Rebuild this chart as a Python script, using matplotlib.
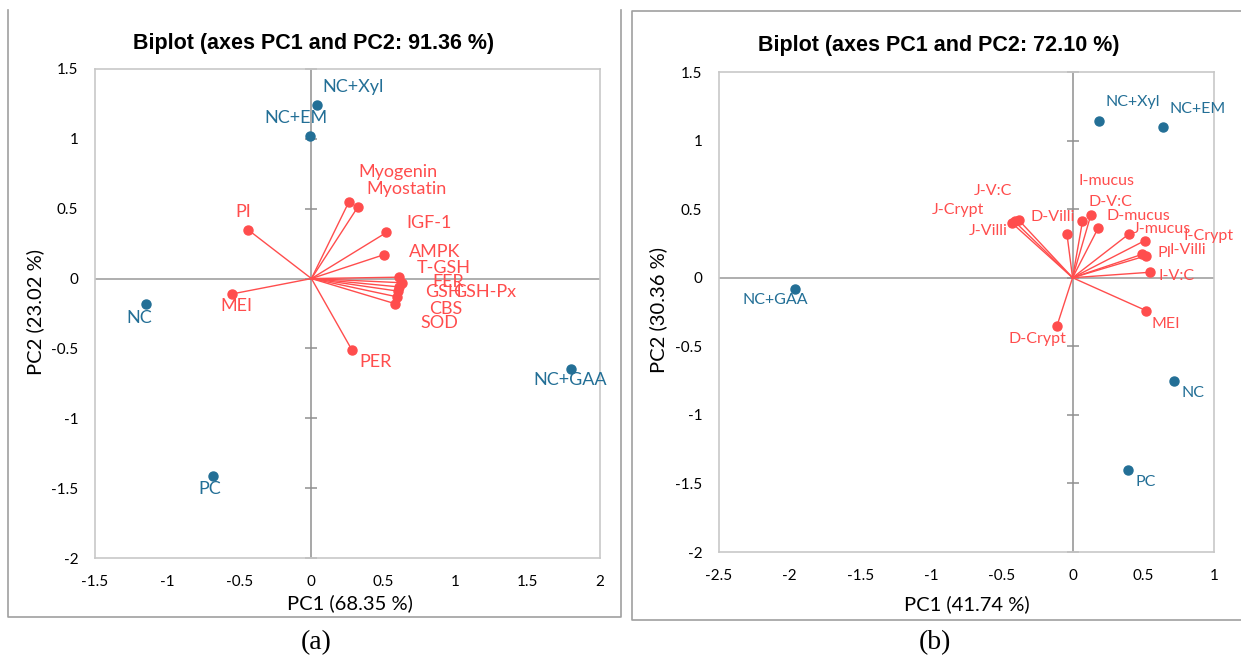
import numpy as np
import matplotlib
matplotlib.use("Agg")
import matplotlib.pyplot as plt
from matplotlib.lines import Line2D

# ---- panel (a) data ----
a_obs_names = ["NC+Xyl", "NC+EM", "NC", "PC", "NC+GAA"]
a_obs_pc1 = [0.04, -0.01, -1.15, -0.68, 1.80]
a_obs_pc2 = [1.24, 1.02, -0.18, -1.41, -0.65]

a_var_names = ["Myogenin", "Myostatin", "IGF-1", "AMPK", "T-GSH", "FER",
               "GSH-Px", "GSH", "CBS", "SOD", "PER", "PI", "MEI"]
a_var_pc1 = [0.26, 0.32, 0.52, 0.50, 0.61, 0.63, 0.61, 0.60, 0.59, 0.58, 0.28, -0.44, -0.55]
a_var_pc2 = [0.55, 0.51, 0.33, 0.17, 0.01, -0.03, -0.06, -0.09, -0.13, -0.18, -0.51, 0.35, -0.11]

a_xticks = [-1.5, -1, -0.5, 0, 0.5, 1, 1.5, 2]
a_yticks = [-2, -1.5, -1, -0.5, 0, 0.5, 1, 1.5]

# ---- panel (b) data ----
b_obs_names = ["NC+Xyl", "NC+EM", "NC+GAA", "NC", "PC"]
b_obs_pc1 = [0.19, 0.64, -1.96, 0.72, 0.39]
b_obs_pc2 = [1.14, 1.10, -0.08, -0.75, -1.40]

b_var_names = ["J-V:C", "J-Crypt", "J-Villi", "D-Villi", "I-mucus", "D-V:C", "D-mucus",
               "J-mucus", "I-Crypt", "PI", "I-Villi", "I-V:C", "MEI", "D-Crypt"]
b_var_pc1 = [-0.38, -0.41, -0.43, -0.04, 0.13, 0.07, 0.18, 0.40, 0.51, 0.49, 0.52, 0.55, 0.52, -0.11]
b_var_pc2 = [0.42, 0.41, 0.40, 0.32, 0.46, 0.41, 0.36, 0.32, 0.27, 0.17, 0.16, 0.04, -0.24, -0.35]

b_xticks = [-2.5, -2, -1.5, -1, -0.5, 0, 0.5, 1]
b_yticks = [-2, -1.5, -1, -0.5, 0, 0.5, 1, 1.5]

# label offsets (pixels) from each point
a_obs_off = [(36, 18), (-14, 18), (-6, -14), (-4, -13), (-1, -11)]
a_var_off = [(49, 30), (49, 18), (43, 9), (51, 3), (44, 9), (46, 1), (85, -5),
             (45, -1), (49, -12), (44, -19), (24, -12), (-5, 18), (4, -12)]
b_obs_off = [(33, 19), (35, 18), (-20, -11), (19, -12), (18, -12)]
b_var_off = [(-26, 29), (-57, 11), (-24, -8), (-14, 17), (16, 34), (28, 19), (40, 12),
             (33, 5), (64, 5), (23, 1), (42, 6), (26, -4), (20, -13), (-20, -13)]

RED = "#FF4D4D"
BLUE = "#236F96"
W, H = 1241, 659

plt.rcParams["font.family"] = ["Lato", "DejaVu Sans"]


def biplot(ax, xlim, ylim, xticks, yticks, obs, var, obs_off, var_off, fs):
    ax.set_xlim(*xlim)
    ax.set_ylim(*ylim)
    ax.set_xticks(xticks)
    ax.set_yticks(yticks)
    ax.set_xticklabels([f"{t:g}" for t in xticks])
    ax.set_yticklabels([f"{t:g}" for t in yticks])
    ax.tick_params(length=0, labelsize=11, pad=12, labelcolor="black")
    for s in ax.spines.values():
        s.set_color("#C8C8C8")
        s.set_linewidth(1.2)
    ax.axhline(0, color="#A8A8A8", lw=1.3, zorder=1)
    ax.axvline(0, color="#909090", lw=1.1, zorder=1)
    ax.plot(np.zeros(len(yticks)), yticks, ls="none", marker="_", ms=8,
            mew=1.1, color="#909090", clip_on=False, zorder=1)

    names, px, py = var
    for n, x, y, off in zip(names, px, py, var_off):
        ax.plot([0, x], [0, y], color=RED, lw=1, zorder=2)
        ax.plot(x, y, "o", color=RED, ms=6.5, zorder=3)
        ax.annotate(n, (x, y), xytext=off, textcoords="offset pixels",
                    ha="center", va="center", color=RED, fontsize=fs)

    names, px, py = obs
    for n, x, y, off in zip(names, px, py, obs_off):
        ax.plot(x, y, "o", color=BLUE, ms=6.5, zorder=3)
        ax.annotate(n, (x, y), xytext=off, textcoords="offset pixels",
                    ha="center", va="center", color=BLUE, fontsize=fs)


fig = plt.figure(figsize=(W / 100, H / 100), dpi=100)

ax_a = fig.add_axes([95 / W, 1 - 558 / H, (600 - 95) / W, (558 - 69) / H])
biplot(ax_a, (-1.5, 2), (-2, 1.5), a_xticks, a_yticks,
       (a_obs_names, a_obs_pc1, a_obs_pc2), (a_var_names, a_var_pc1, a_var_pc2),
       a_obs_off, a_var_off, 13)

ax_b = fig.add_axes([719 / W, 1 - 552 / H, (1214 - 719) / W, (552 - 72) / H])
biplot(ax_b, (-2.5, 1), (-2, 1.5), b_xticks, b_yticks,
       (b_obs_names, b_obs_pc1, b_obs_pc2), (b_var_names, b_var_pc1, b_var_pc2),
       b_obs_off, b_var_off, 11.5)

# titles, axis labels, captions
fx = lambda x: x / W
fy = lambda y: 1 - y / H
fig.text(fx(314), fy(43), "Biplot (axes PC1 and PC2: 91.36 %)", ha="center", va="center",
         fontsize=15.5, fontweight="bold", family="Liberation Sans")
fig.text(fx(939), fy(45), "Biplot (axes PC1 and PC2: 72.10 %)", ha="center", va="center",
         fontsize=15.5, fontweight="bold", family="Liberation Sans")
fig.text(fx(350), fy(603), "PC1 (68.35 %)", ha="center", va="center", fontsize=14.5)
fig.text(fx(967), fy(604), "PC1 (41.74 %)", ha="center", va="center", fontsize=14.5)
fig.text(fx(35), fy(312), "PC2 (23.02 %)", ha="center", va="center", fontsize=14.5, rotation=90)
fig.text(fx(658), fy(310), "PC2 (30.36 %)", ha="center", va="center", fontsize=14.5, rotation=90)
fig.text(fx(316), fy(643), "(a)", ha="center", va="center", fontsize=20, family="Liberation Serif")
fig.text(fx(935), fy(643), "(b)", ha="center", va="center", fontsize=20, family="Liberation Serif")

# outer panel frames
frame = dict(color="#A0A0A0", lw=1.2, transform=fig.transFigure)
fig.add_artist(Line2D([fx(8), fx(8), fx(621), fx(621)], [fy(10), fy(617), fy(617), fy(10)], **frame))
fig.add_artist(Line2D([fx(1245), fx(632), fx(632), fx(1245)], [fy(11), fy(11), fy(620), fy(620)], **frame))

fig.savefig("out.png", dpi=100)
